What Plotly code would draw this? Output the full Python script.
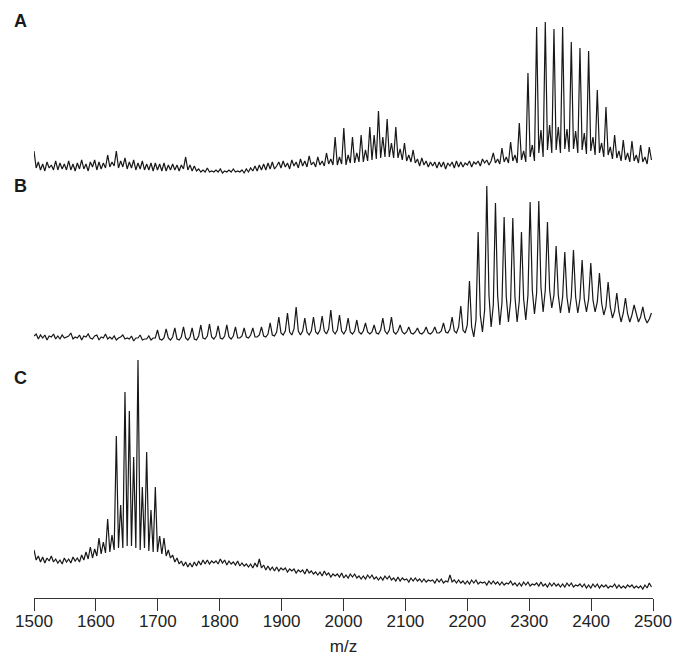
import plotly.graph_objects as go

# ---------------- data ----------------
MZ_START = 1500          # first sampled m/z
MZ_STEP = 3.5            # sampling step of the spectra (Da)
TICK_VALUES = [1500, 1600, 1700, 1800, 1900, 2000, 2100, 2200, 2300, 2400, 2500]
PANEL_LABELS = ["A", "B", "C"]
X_TITLE = "m/z"

# relative intensities, one value every 3.5 Da starting at m/z 1500 (4 values = 14 Da)
spec_A = [
    24, 7, 13, 5,    11, 4, 13, 7,    10, 5, 14, 5,    12, 6, 11, 5,      # 1500-1555
    14, 5, 11, 4,    12, 6, 15, 6,    11, 4, 13, 8,    15, 5, 13, 6,      # 1556-1611
    12, 7, 20, 8,    13, 9, 24, 7,    14, 8, 17, 6,    13, 7, 15, 5,      # 1612-1667
    12, 6, 14, 5,    11, 5, 12, 4,    12, 5, 11, 4,    12, 4, 10, 5,      # 1668-1723
    11, 5, 10, 4,    10, 6, 18, 5,    10, 4, 9, 4,     6, 3, 5, 3,        # 1724-1779
    7, 3, 4, 3,      5, 3, 6, 2,      4, 3, 5, 3,      6, 3, 4, 3,        # 1780-1835
    5, 2, 6, 3,      7, 4, 9, 4,      10, 5, 11, 5,    12, 6, 13, 6,      # 1836-1891
    9, 13, 7, 14,    8, 12, 6, 15,    9, 13, 7, 16,    9, 14, 8, 19,      # 1892-1947
    10, 13, 8, 18,   10, 14, 9, 22,   11, 16, 10, 38,  10, 18, 11, 47,    # 1948-2003
    10, 20, 12, 38,  12, 22, 13, 40,  13, 25, 14, 48,  15, 40, 16, 64,    # 2004-2059
    17, 38, 18, 56,  18, 32, 17, 48,  17, 26, 15, 32,  14, 20, 13, 25,    # 2060-2115
    12, 16, 9, 17,   10, 14, 8, 13,   9, 13, 7, 13,    8, 13, 6, 12,      # 2116-2171
    9, 13, 7, 14,    8, 13, 8, 12,    10, 14, 8, 13,   11, 14, 9, 16,     # 2172-2227
    12, 15, 10, 14,  22, 12, 16, 11,  27, 13, 18, 12,  33, 14, 20, 12,    # 2228-2283
    52, 15, 24, 13,  102, 18, 30, 14, 148, 22, 45, 18, 153, 25, 50, 22,   # 2284-2339
    146, 25, 48, 22, 148, 26, 46, 23, 133, 26, 44, 22, 127, 25, 42, 21,   # 2340-2395
    124, 24, 38, 20, 85, 22, 32, 18,  68, 20, 28, 16,  40, 17, 24, 14,    # 2396-2451
    35, 15, 22, 13,  34, 14, 20, 12,  30, 13, 18, 11,  28, 15,            # 2452-2497.5
]

spec_B = [
    9, 11, 6, 10,    7, 10, 5, 9,     8, 11, 6, 9,     6, 10, 7, 8,       # 1500-1555
    9, 12, 6, 8,     7, 10, 5, 9,     8, 11, 7, 6,     9, 10, 5, 8,       # 1556-1611
    7, 11, 6, 8,     6, 9, 5, 7,      8, 10, 6, 7,     6, 9, 4, 7,        # 1612-1667
    7, 10, 5, 6,     6, 9, 5, 7,      7, 15, 6, 5,     7, 16, 7, 5,       # 1668-1723
    8, 17, 6, 5,     8, 18, 7, 5,     8, 17, 6, 5,     9, 20, 7, 6,       # 1724-1779
    9, 21, 8, 6,     9, 19, 7, 6,     9, 20, 8, 6,     9, 18, 7, 7,       # 1780-1835
    9, 17, 8, 7,     10, 17, 8, 8,    10, 18, 9, 8,    11, 22, 10, 9,     # 1836-1891
    13, 28, 12, 10,  14, 32, 13, 10,  16, 38, 14, 10,  14, 27, 13, 10,    # 1892-1947
    14, 28, 13, 11,  15, 29, 14, 11,  16, 35, 14, 11,  15, 30, 14, 11,    # 1948-2003
    15, 27, 13, 11,  14, 25, 13, 11,  14, 22, 13, 11,  13, 20, 12, 11,    # 2004-2059
    15, 27, 14, 11,  15, 28, 13, 11,  14, 20, 13, 11,  13, 18, 12, 11,    # 2060-2115
    13, 17, 12, 11,  13, 18, 12, 11,  13, 18, 12, 12,  14, 22, 13, 12,    # 2116-2171
    16, 28, 14, 12,  18, 39, 15, 12,  20, 64, 18, 8,   25, 113, 30, 13,   # 2172-2227
    35, 159, 50, 18, 40, 142, 50, 20, 42, 128, 48, 23, 44, 127, 48, 23,   # 2228-2283
    44, 113, 46, 25, 50, 143, 55, 31, 52, 144, 58, 33, 55, 123, 55, 37,   # 2284-2339
    50, 99, 50, 32,  48, 93, 48, 32,  48, 95, 48, 32,  46, 85, 46, 33,    # 2340-2395
    46, 82, 45, 33,  43, 72, 42, 30,  38, 63, 38, 27,  34, 52, 33, 23,    # 2396-2451
    32, 47, 31, 23,  30, 40, 30, 23,  28, 38, 27, 22,  26, 32,            # 2452-2497.5
]

spec_C = [
    48, 38, 42, 36,  41, 35, 40, 37,  42, 36, 39, 35,  38, 34, 40, 36,    # 1500-1555
    39, 35, 41, 37,  40, 36, 43, 38,  46, 39, 51, 40,  49, 42, 60, 44,    # 1556-1611
    56, 45, 79, 46,  63, 48, 162, 50, 93, 50, 206, 52, 187, 52, 141, 50,  # 1612-1667
    238, 48, 111, 50, 146, 47, 88, 46, 111, 46, 62, 44, 60, 42, 48, 40,   # 1668-1723
    43, 36, 40, 34,  37, 32, 36, 31,  35, 31, 36, 32,  37, 33, 38, 34,    # 1724-1779
    38, 34, 37, 35,  37, 34, 39, 35,  38, 33, 37, 34,  36, 33, 37, 32,    # 1780-1835
    35, 32, 34, 31,  34, 30, 35, 31,  39, 30, 33, 28,  32, 28, 31, 27,    # 1836-1891
    31, 27, 30, 28,  30, 26, 29, 27,  29, 25, 28, 26,  28, 24, 29, 25,    # 1892-1947
    27, 24, 26, 23,  26, 22, 27, 23,  25, 21, 24, 22,  24, 21, 25, 20,    # 1948-2003
    23, 20, 24, 21,  24, 20, 22, 19,  22, 19, 23, 20,  23, 19, 21, 18,    # 2004-2059
    21, 18, 22, 19,  22, 18, 20, 17,  21, 17, 20, 18,  19, 16, 20, 17,    # 2060-2115
    20, 17, 19, 16,  19, 16, 18, 17,  18, 15, 19, 16,  19, 15, 17, 16,    # 2116-2171
    23, 16, 18, 15,  18, 15, 17, 14,  17, 14, 18, 15,  18, 14, 16, 15,    # 2172-2227
    16, 13, 17, 14,  17, 14, 16, 13,  16, 13, 15, 14,  17, 13, 15, 12,    # 2228-2283
    15, 12, 16, 13,  16, 12, 14, 13,  15, 12, 16, 12,  14, 11, 15, 12,    # 2284-2339
    15, 12, 14, 11,  14, 11, 15, 12,  15, 11, 13, 12,  14, 11, 14, 10,    # 2340-2395
    13, 10, 14, 11,  14, 10, 13, 11,  13, 10, 12, 11,  14, 10, 13, 10,    # 2396-2451
    12, 10, 13, 11,  13, 10, 12, 10,  12, 9, 13, 10,   15, 11,            # 2452-2497.5
]

# ---------------- figure ----------------
FONT = "Liberation Sans, Arial, Helvetica, sans-serif"
LINE = dict(color="#181818", width=1.2)


def mz_axis(values):
    return [MZ_START + MZ_STEP * i for i in range(len(values))]


fig = go.Figure()
fig.add_trace(go.Scatter(x=mz_axis(spec_C), y=spec_C, mode="lines", line=LINE,
                         xaxis="x", yaxis="y", hoverinfo="skip"))
fig.add_trace(go.Scatter(x=mz_axis(spec_B), y=spec_B, mode="lines", line=LINE,
                         xaxis="x", yaxis="y2", hoverinfo="skip"))
fig.add_trace(go.Scatter(x=mz_axis(spec_A), y=spec_A, mode="lines", line=LINE,
                         xaxis="x", yaxis="y3", hoverinfo="skip"))

label_pos = [0.9905, 0.7060, 0.3770]
annotations = [
    dict(text=f"<b>{lab}</b>", x=-0.0225, y=yy, xref="paper", yref="paper",
         xanchor="center", yanchor="middle", showarrow=False,
         font=dict(family=FONT, size=18, color="#1a1a1a"))
    for lab, yy in zip(PANEL_LABELS, label_pos)
]

# the page body adds an 8 px offset, so margins are reduced by 8 on the left/top
fig.update_layout(
    width=684, height=664,
    margin=dict(l=23, r=39, t=7, b=74),
    paper_bgcolor="white", plot_bgcolor="white",
    showlegend=False,
    xaxis=dict(range=[1500, 2500], tickvals=TICK_VALUES, ticks="outside", ticklen=12,
               tickwidth=1.3, tickcolor="#333", showline=True, linecolor="#333",
               linewidth=1.3, showgrid=False, zeroline=False, anchor="y",
               ticklabelstandoff=-5,
               tickfont=dict(family=FONT, size=17, color="#222"),
               title=dict(text=X_TITLE, font=dict(family=FONT, size=17, color="#222"),
                          standoff=10)),
    yaxis=dict(domain=[0, 0.4254], range=[0, 248], visible=False, anchor="x"),
    yaxis2=dict(domain=[0.434, 0.7204], range=[0, 167], visible=False, anchor="x"),
    yaxis3=dict(domain=[0.7256, 1.0], range=[0, 160], visible=False, anchor="x"),
    annotations=annotations,
)

fig.write_html("out.html")
